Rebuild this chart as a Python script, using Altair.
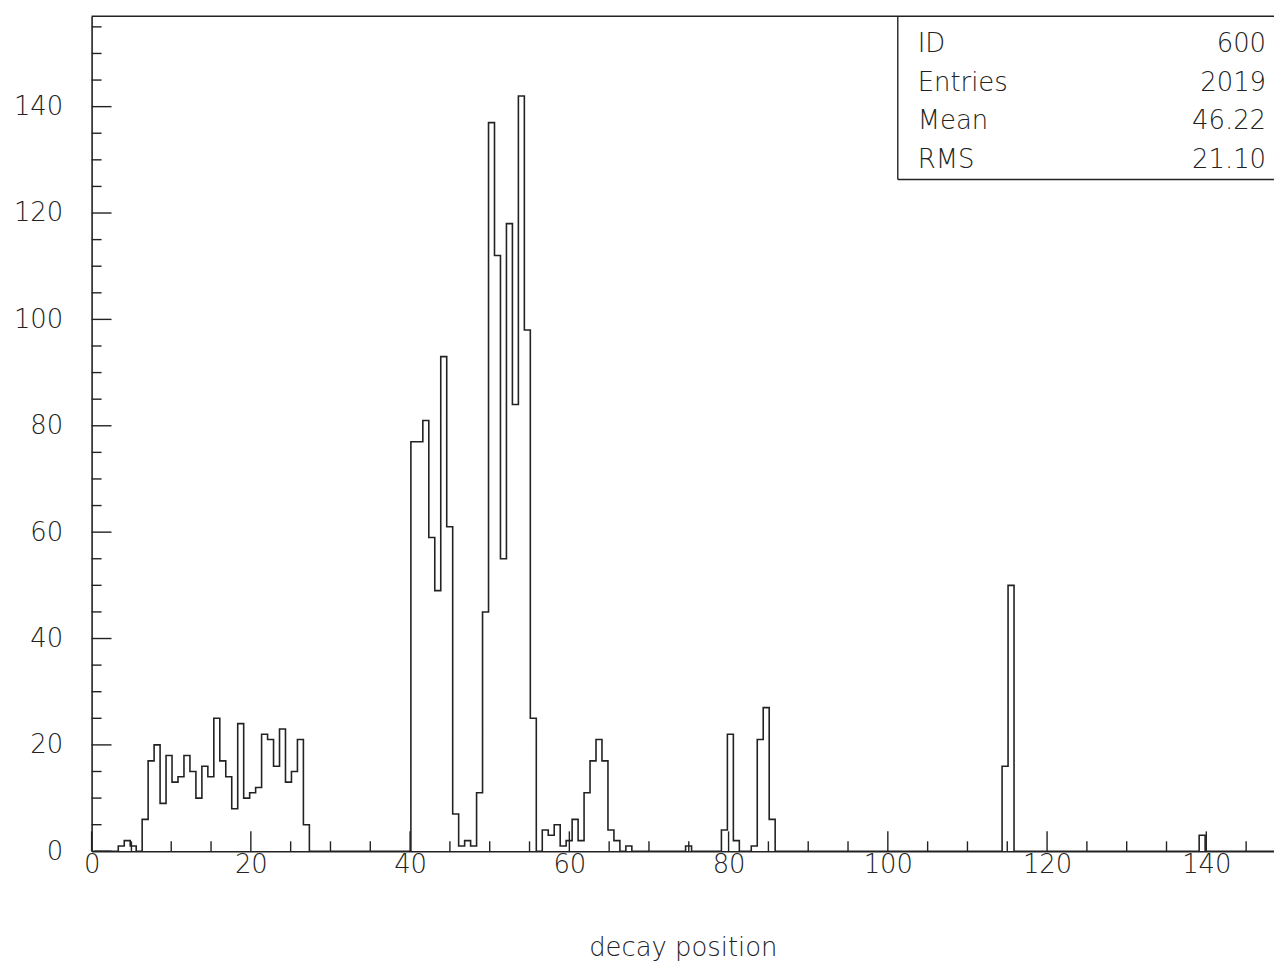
import altair as alt
import pandas as pd

# ---------------- data ----------------
X0 = 0.35          # lower edge of first bin
BIN_W = 0.75       # bin width
COUNTS = [
    0, 0, 0, 0, 1, 2, 1, 0,
    6, 17, 20, 9, 18, 13, 14, 18, 15, 10, 16, 14, 25, 17, 14, 8, 24, 10, 11, 12,
    22, 21, 16, 23, 13, 15, 21, 5,
    0, 0, 0, 0, 0, 0, 0, 0, 0, 0, 0, 0, 0, 0, 0, 0, 0,
    77, 77, 81, 59, 49, 93, 61, 7, 1, 2, 1, 11, 45, 137, 112, 55, 118, 84, 142, 98, 25,
    0,
    4, 3, 5, 1, 2, 6, 2, 11, 17, 21, 17, 4, 2, 0, 1,
    0, 0, 0, 0, 0, 0, 0, 0, 0,
    1,
    0, 0, 0, 0, 0,
    4, 22, 2,
    0, 0,
    1, 21, 27, 6,
    0, 0, 0, 0, 0, 0, 0, 0, 0, 0, 0, 0, 0, 0, 0, 0, 0, 0, 0, 0,
    0, 0, 0, 0, 0, 0, 0, 0, 0, 0, 0, 0, 0, 0, 0, 0, 0, 0,
    16, 50,
    0, 0, 0, 0, 0, 0, 0, 0, 0, 0, 0, 0, 0, 0, 0, 0, 0, 0, 0, 0,
    0, 0, 0, 0, 0, 0, 0, 0, 0, 0, 0,
    3,
    0, 0, 0, 0, 0, 0, 0, 0, 0, 0, 0, 0,
]
X_MAJOR = [0, 20, 40, 60, 80, 100, 120, 140]
X_MINOR = [5, 10, 15, 25, 30, 35, 45, 50, 55, 65, 70, 75, 85, 90, 95,
           105, 110, 115, 125, 130, 135, 145]
Y_MAJOR = [0, 20, 40, 60, 80, 100, 120, 140]
Y_MINOR = [5, 10, 15, 25, 30, 35, 45, 50, 55, 65, 70, 75, 85, 90, 95,
           105, 110, 115, 125, 130, 135, 145, 150, 155]
STAT_LABELS = ["ID", "Entries", "Mean", "RMS"]
STAT_VALUES = ["600", "2019", "46.22", "21.10"]
X_TITLE = "decay position"

# ---------------- layout / style ----------------
W, H = 1188, 839
INK = "#222222"
FONT = "DejaVu Sans"
FS = 26

edges = [round(X0 + BIN_W * k, 4) for k in range(len(COUNTS) + 1)]
hist = pd.DataFrame({"x": edges, "count": COUNTS + [0]})

xs = alt.Scale(domain=[0, 148.5], nice=False, zero=False)
ys = alt.Scale(domain=[0, 157], nice=False)

X_AXIS = alt.Axis(
    values=X_MAJOR, format="d", title=X_TITLE, ticks=False, tickSize=0, grid=False,
    domainColor=INK, domainWidth=1.6, labelFont=FONT, labelFontSize=FS,
    labelFontWeight=200, labelColor=INK, labelPadding=0, labelFlush=False,
    titleFont=FONT, titleFontSize=FS, titleFontWeight=200, titleColor=INK,
    titlePadding=58)
Y_AXIS = alt.Axis(
    values=Y_MAJOR, format="d", title="", ticks=False, tickSize=0, grid=False,
    domainColor=INK, domainWidth=1.6, labelFont=FONT, labelFontSize=FS,
    labelFontWeight=200, labelColor=INK, labelPadding=29, labelFlush=False)

line = alt.Chart(hist).mark_line(
    interpolate="step-after", color=INK, strokeWidth=1.6, clip=True
).encode(
    x=alt.X("x:Q", scale=xs, axis=X_AXIS),
    y=alt.Y("count:Q", scale=ys, axis=Y_AXIS),
)

def yticks(vals, length):
    return alt.Chart(pd.DataFrame({"count": vals})).mark_rule(color=INK, strokeWidth=1.4).encode(
        y=alt.Y("count:Q", scale=ys, axis=Y_AXIS), x=alt.value(0), x2=alt.value(length))

def xticks(vals, length):
    return alt.Chart(pd.DataFrame({"x": vals})).mark_rule(color=INK, strokeWidth=1.4).encode(
        x=alt.X("x:Q", scale=xs, axis=X_AXIS), y=alt.value(H), y2=alt.value(H - length))

one = pd.DataFrame({"a": [0]})
top_line = alt.Chart(one).mark_rule(color=INK, strokeWidth=1.6).encode(
    x=alt.value(0), x2=alt.value(W), y=alt.value(0))
box_left = alt.Chart(one).mark_rule(color=INK, strokeWidth=1.4).encode(
    x=alt.value(810), y=alt.value(0), y2=alt.value(164))
box_bottom = alt.Chart(one).mark_rule(color=INK, strokeWidth=1.4).encode(
    x=alt.value(810), x2=alt.value(W), y=alt.value(164))

stat_layers = []
for i, (lab, val) in enumerate(zip(STAT_LABELS, STAT_VALUES)):
    df = pd.DataFrame({"label": [lab], "value": [val]})
    ypix = 28 + i * 38.7
    stat_layers.append(alt.Chart(df).mark_text(
        align="left", baseline="middle", font=FONT, fontSize=FS, fontWeight=200, color=INK
    ).encode(text="label:N", x=alt.value(830), y=alt.value(ypix)))
    stat_layers.append(alt.Chart(df).mark_text(
        align="right", baseline="middle", font=FONT, fontSize=FS, fontWeight=200, color=INK
    ).encode(text="value:N", x=alt.value(1180), y=alt.value(ypix)))

chart = alt.layer(
    line,
    yticks(Y_MAJOR, 20), yticks(Y_MINOR, 10),
    xticks(X_MAJOR, 20), xticks(X_MINOR, 10),
    top_line, box_left, box_bottom,
    *stat_layers,
).properties(
    width=W, height=H,
    autosize=alt.AutoSizeParams(type="none"),
    padding={"left": 84, "top": 6, "right": 0, "bottom": 112},
    background="white",
).configure_view(stroke=None)

chart.save("out.html", embed_options={"renderer": "svg", "actions": False})
